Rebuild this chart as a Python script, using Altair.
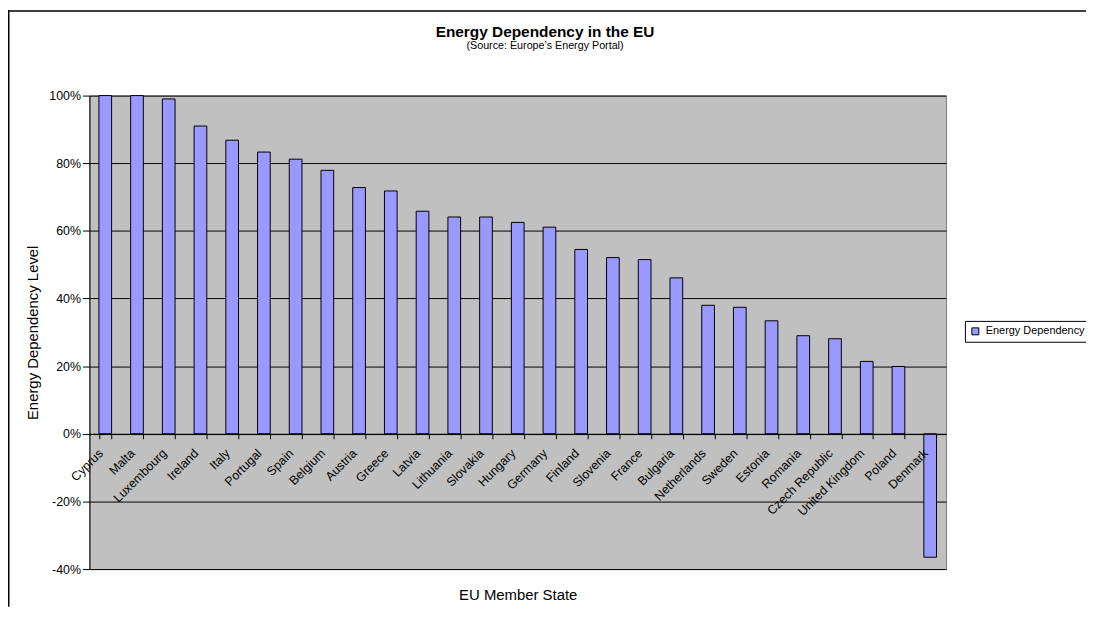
import altair as alt
import pandas as pd

FONT = "Liberation Sans, Arial, Helvetica, sans-serif"

countries = ["Cyprus", "Malta", "Luxembourg", "Ireland", "Italy", "Portugal", "Spain",
             "Belgium", "Austria", "Greece", "Latvia", "Lithuania", "Slovakia", "Hungary",
             "Germany", "Finland", "Slovenia", "France", "Bulgaria", "Netherlands",
             "Sweden", "Estonia", "Romania", "Czech Republic", "United Kingdom",
             "Poland", "Denmark"]
dependency = [1.000, 1.000, 0.990, 0.910, 0.868, 0.833, 0.812,
              0.779, 0.728, 0.718, 0.658, 0.641, 0.641, 0.625,
              0.611, 0.545, 0.521, 0.515, 0.461, 0.380,
              0.374, 0.334, 0.290, 0.281, 0.214,
              0.199, -0.365]
series_name = "Energy Dependency"
y_ticks = [-0.4, -0.2, 0.0, 0.2, 0.4, 0.6, 0.8, 1.0]

df = pd.DataFrame({"country": countries, "value": dependency})
df["series"] = series_name

W, H = 863, 477
PAD_L, PAD_T, PAD_R, PAD_B = 82, 86, 141, 38

bars = alt.Chart(df).mark_bar(stroke="black", strokeWidth=1).encode(
    x=alt.X("country:N", sort=None,
            scale=alt.Scale(paddingInner=0.6, paddingOuter=0.3),
            axis=alt.Axis(title="EU Member State", labelAngle=-45, labelAlign="right",
                          labelBaseline="top", labelOffset=-9, labelPadding=8,
                          tickBand="extent", tickSize=5, tickColor="black",
                          domainColor="black", offset=-136.3, grid=False, zindex=1,
                          titleY=162, titleBaseline="middle")),
    y=alt.Y("value:Q", scale=alt.Scale(domain=[-0.4, 1.0], nice=False),
            axis=alt.Axis(title="Energy Dependency Level", format=".0%", values=y_ticks,
                          labelExpr="replace(datum.label, '\u2212', '-')",
                          tickSize=7, tickColor="black", domainColor="black",
                          labelPadding=2, grid=True, gridColor="black", gridOpacity=1,
                          titlePadding=8)),
    color=alt.Color("series:N", scale=alt.Scale(range=["#9999FF"]),
                    legend=alt.Legend(title=None, orient="none", legendX=882, legendY=227,
                                      symbolType="square", symbolSize=49,
                                      symbolStrokeColor="black", symbolStrokeWidth=1,
                                      strokeColor="black", fillColor="white", padding=5,
                                      labelOffset=5)),
)

frame = pd.DataFrame({"k": [0]})
left_line = alt.Chart(frame).mark_rule(color="black", strokeWidth=1.5).encode(
    x=alt.value(-PAD_L + 0.75), y=alt.value(-PAD_T), y2=alt.value(H + PAD_B))
top_line = alt.Chart(frame).mark_rule(color="black", strokeWidth=1.5).encode(
    y=alt.value(-PAD_T + 0.75), x=alt.value(-PAD_L), x2=alt.value(W + PAD_R))

chart = alt.layer(bars, left_line, top_line).properties(
    width=W, height=H,
    background="white",
    title=alt.TitleParams("Energy Dependency in the EU",
                          subtitle="(Source: Europe\u2019s Energy Portal)",
                          anchor="middle", dx=27.5, offset=-42, subtitlePadding=0,
                          fontSize=15.5, fontWeight="bold", font=FONT, color="black",
                          subtitleFont=FONT, subtitleFontSize=10.8, subtitleColor="black"),
    autosize=alt.AutoSizeParams(type="none"),
    padding={"left": PAD_L, "top": PAD_T, "right": PAD_R, "bottom": PAD_B},
).configure_view(
    fill="#C0C0C0", stroke="#808080", strokeWidth=1
).configure_axis(
    labelFont=FONT, titleFont=FONT, labelFontSize=12.5, titleFontSize=15,
    labelColor="black", titleColor="black", titleFontWeight="normal"
).configure_legend(
    labelFont=FONT, labelFontSize=11, labelColor="black"
)

chart.save("out.html", embed_options={"renderer": "svg", "actions": False})
